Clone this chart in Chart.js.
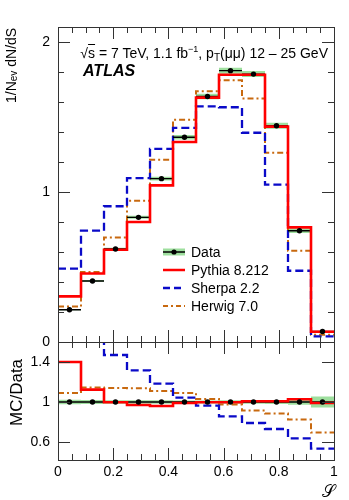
<!DOCTYPE html>
<html lang="en">
<head>
<meta charset="UTF-8" />
<title>Event shape S, ATLAS</title>
<script src="https://cdn.jsdelivr.net/npm/chart.js"></script>
<style>
  body { margin: 0; background: #fff; font-family: "Liberation Sans", Arial, sans-serif; color: #000; }
  #wrap { position: relative; width: 349px; height: 500px; overflow: hidden; }
  canvas { position: absolute; left: 0; }
  #topChart { top: 0; }
  #ratioChart { top: 342px; }
  .lbl { position: absolute; white-space: nowrap; }
  .vt { writing-mode: vertical-rl; transform: rotate(180deg); text-align: end; }
  .sb { font-size: 10px; vertical-align: -3px; }
  .sp { font-size: 9px; vertical-align: 6px; }
  .leg { position: absolute; left: 163px; font-size: 14px; }
  .leg div { height: 18px; line-height: 18px; display: flex; align-items: center; }
  .leg svg { margin-right: 6px; }
</style>
</head>
<body>
<div id="wrap">
  <canvas id="topChart" width="349" height="360"></canvas>
  <canvas id="ratioChart" width="349" height="158"></canvas>

  <div class="lbl vt" style="left:3px; top:28px; width:16px; height:200px; font-size:14px; line-height:16px;">1/N<span class="sb">ev</span> dN/dS</div>
  <div class="lbl vt" style="left:7px; top:359px; width:20px; height:100px; font-size:17px; line-height:20px;">MC/Data</div>
  <div class="lbl" style="left:322px; top:481px; font-size:17px; font-family:'DejaVu Serif', serif;">𝒮</div>

  <div class="lbl" style="right:21px; top:44px; font-size:14px;">√<span style="text-decoration:overline">s</span> = 7 TeV, 1.1 fb<span class="sp">−1</span>, p<span class="sb">T</span>(μμ) 12 – 25 GeV</div>
  <div class="lbl" style="left:83px; top:62px; font-size:16px; font-weight:bold; font-style:italic;">ATLAS</div>

  <div class="leg" style="top:243px;">
    <div><svg width="22" height="10"><rect x="0" y="1.5" width="22" height="7" fill="#9edf9e"/><line x1="0" y1="5" x2="22" y2="5" stroke="#000" stroke-width="1.5"/><circle cx="11" cy="5" r="2.6" fill="#000"/></svg>Data</div>
    <div><svg width="22" height="10"><line x1="0" y1="5" x2="22" y2="5" stroke="#ff0000" stroke-width="2.5"/></svg>Pythia 8.212</div>
    <div><svg width="22" height="10"><line x1="0" y1="5" x2="22" y2="5" stroke="#0a0ac8" stroke-width="2.5" stroke-dasharray="7,4"/></svg>Sherpa 2.2</div>
    <div><svg width="22" height="10"><line x1="0" y1="5" x2="22" y2="5" stroke="#c8690f" stroke-width="2" stroke-dasharray="5,3,2,3"/></svg>Herwig 7.0</div>
  </div>
</div>

<script>
  const FONT = '"Liberation Sans", Arial, sans-serif';

  // bin edges of the event shape S (12 bins)
  const binEdges = [0, 1/12, 2/12, 3/12, 4/12, 5/12, 6/12, 7/12, 8/12, 9/12, 10/12, 11/12, 1];
  const binCenters = [1/24, 3/24, 5/24, 7/24, 9/24, 11/24, 13/24, 15/24, 17/24, 19/24, 21/24, 23/24];

  // 1/Nev dN/dS
  const dataVals   = [0.215, 0.407, 0.620, 0.831, 1.089, 1.365, 1.637, 1.809, 1.786, 1.442, 0.742, 0.070];
  const dataErr    = [0.004, 0.006, 0.008, 0.010, 0.012, 0.015, 0.018, 0.020, 0.020, 0.020, 0.015, 0.003];
  const pythiaVals = [0.304, 0.457, 0.615, 0.800, 1.044, 1.333, 1.629, 1.782, 1.782, 1.436, 0.764, 0.068];
  const sherpaVals = [0.489, 0.742, 0.905, 1.092, 1.287, 1.427, 1.571, 1.565, 1.395, 1.049, 0.475, 0.037];
  const herwigVals = [0.236, 0.466, 0.697, 0.942, 1.215, 1.482, 1.671, 1.745, 1.624, 1.262, 0.609, 0.048];

  // MC/Data
  const dataRatio   = [1, 1, 1, 1, 1, 1, 1, 1, 1, 1, 1, 1];
  const ratioErr    = [0.022, 0.020, 0.018, 0.017, 0.017, 0.016, 0.016, 0.017, 0.017, 0.020, 0.028, 0.055];
  const pythiaRatio = [1.400, 1.124, 0.997, 0.970, 0.960, 0.990, 0.997, 0.997, 1.007, 1.007, 1.027, 0.990];
  const sherpaRatio = [2.270, 1.820, 1.470, 1.317, 1.184, 1.044, 0.963, 0.857, 0.790, 0.730, 0.637, 0.534];
  const herwigRatio = [1.090, 1.144, 1.140, 1.137, 1.110, 1.090, 1.030, 0.974, 0.914, 0.884, 0.824, 0.694];

  const xTickLabels = [0, 0.2, 0.4, 0.6, 0.8, 1];
  const yTopLabels = [0, 1, 2];
  const yRatioLabels = [0.6, 1, 1.4];

  const RED = '#ff0000', BLUE = '#0a0ac8', ORANGE = '#c8690f', GREEN = '#9edf9e';

  // stepped histogram points: value i spans binEdges[i]..binEdges[i+1]
  function hist(vals) {
    const pts = vals.map((v, i) => ({x: binEdges[i], y: v}));
    pts.push({x: binEdges[vals.length], y: vals[vals.length - 1]});
    return pts;
  }
  // horizontal bars for the data (bin width), separated by gaps
  function bars(vals) {
    const pts = [];
    vals.forEach((v, i) => {
      pts.push({x: binEdges[i], y: v}, {x: binEdges[i + 1], y: v}, {x: binEdges[i + 1], y: null});
    });
    return pts;
  }

  function datasets(d, err, py, sh, hw) {
    return [
      { data: binCenters.map((c, i) => ({x: c, y: d[i]})), showLine: false,
        pointRadius: 2.7, pointBackgroundColor: '#000', pointBorderWidth: 0 },
      { data: hist(py), stepped: true, borderColor: RED, borderWidth: 2.6, pointRadius: 0 },
      { data: bars(d), borderColor: '#000', borderWidth: 1.4, pointRadius: 0, spanGaps: false },
      { data: hist(sh), stepped: true, borderColor: BLUE, borderWidth: 2.3, borderDash: [8, 4], pointRadius: 0 },
      { data: hist(hw), stepped: true, borderColor: ORANGE, borderWidth: 2, borderDash: [6, 3, 2, 3], pointRadius: 0 },
      { data: hist(d.map((v, i) => v + err[i])), stepped: true, borderWidth: 0, pointRadius: 0,
        fill: '+1', backgroundColor: GREEN },
      { data: hist(d.map((v, i) => v - err[i])), stepped: true, borderWidth: 0, pointRadius: 0 }
    ];
  }

  // ROOT-like frame with inward ticks on all four sides
  const frameTicks = {
    id: 'frameTicks',
    afterDraw(chart, args, o) {
      const {ctx, chartArea: a} = chart;
      const x = chart.scales.x, y = chart.scales.y;
      ctx.save();
      ctx.strokeStyle = '#333';
      ctx.lineWidth = 1;
      const seg = (x1, y1, x2, y2) => { ctx.beginPath(); ctx.moveTo(x1, y1); ctx.lineTo(x2, y2); ctx.stroke(); };
      for (let i = 0; i <= 20; i++) {
        const len = i % 4 === 0 ? o.major : o.minor;
        const px = Math.round(x.getPixelForValue(i * 0.05)) + 0.5;
        seg(px, a.bottom, px, a.bottom - len);
        seg(px, a.top, px, a.top + len);
      }
      const yt = o.yMajor.map(v => [v, o.major]).concat(o.yMinor.map(v => [v, o.minor]));
      yt.forEach(([v, len]) => {
        const py = Math.round(y.getPixelForValue(v)) + 0.5;
        seg(a.left, py, a.left + len, py);
        seg(a.right, py, a.right - len, py);
      });
      ctx.strokeRect(Math.round(a.left) + 0.5, Math.round(a.top) + 0.5,
                     Math.round(a.right - a.left), Math.round(a.bottom - a.top));
      ctx.restore();
    }
  };

  const common = {
    responsive: false,
    animation: false,
    events: [],
    plugins: { legend: { display: false }, tooltip: { enabled: false } }
  };

  function yFit(s) {
    s.width = 58;
    s.paddingTop = 0;
    s.paddingBottom = 0;
  }

  new Chart(document.getElementById('topChart'), {
    type: 'line',
    data: { datasets: datasets(dataVals, dataErr, pythiaVals, sherpaVals, herwigVals) },
    plugins: [frameTicks],
    options: {
      ...common,
      layout: { autoPadding: false, padding: { top: 27, right: 15, bottom: 18, left: 0 } },
      plugins: { ...common.plugins,
        frameTicks: { major: 12, minor: 6, yMajor: yTopLabels, yMinor: [0.2, 0.4, 0.6, 0.8, 1.2, 1.4, 1.6, 1.8] } },
      scales: {
        x: { type: 'linear', min: 0, max: 1, display: false },
        y: {
          min: 0, max: 2.1,
          afterFit: yFit,
          afterBuildTicks(s) { s.ticks = yTopLabels.map(v => ({value: v})); },
          grid: { display: false, drawTicks: false },
          border: { display: false },
          ticks: { padding: 8, color: '#000', autoSkip: false, font: { size: 14, family: FONT },
                   callback: v => String(v) }
        }
      }
    }
  });

  new Chart(document.getElementById('ratioChart'), {
    type: 'line',
    data: { datasets: datasets(dataRatio, ratioErr, pythiaRatio, sherpaRatio, herwigRatio) },
    plugins: [frameTicks],
    options: {
      ...common,
      layout: { autoPadding: false, padding: { top: 0, right: 15, bottom: 0, left: 0 } },
      plugins: { ...common.plugins,
        frameTicks: { major: 12, minor: 6, yMajor: yRatioLabels, yMinor: [] } },
      scales: {
        x: {
          type: 'linear', min: 0, max: 1,
          afterFit(s) { s.height = 40; s.paddingLeft = 0; s.paddingRight = 0; },
          afterBuildTicks(s) { s.ticks = xTickLabels.map(v => ({value: v})); },
          grid: { display: false, drawTicks: false },
          border: { display: false },
          ticks: { padding: 4, color: '#000', autoSkip: false, maxRotation: 0,
                   font: { size: 14, family: FONT }, callback: v => String(v) }
        },
        y: {
          min: 0.42, max: 1.6,
          afterFit: yFit,
          afterBuildTicks(s) { s.ticks = yRatioLabels.map(v => ({value: v})); },
          grid: { display: false, drawTicks: false },
          border: { display: false },
          ticks: { padding: 8, color: '#000', autoSkip: false, font: { size: 14, family: FONT },
                   callback: v => String(v) }
        }
      }
    }
  });
</script>
</body>
</html>
